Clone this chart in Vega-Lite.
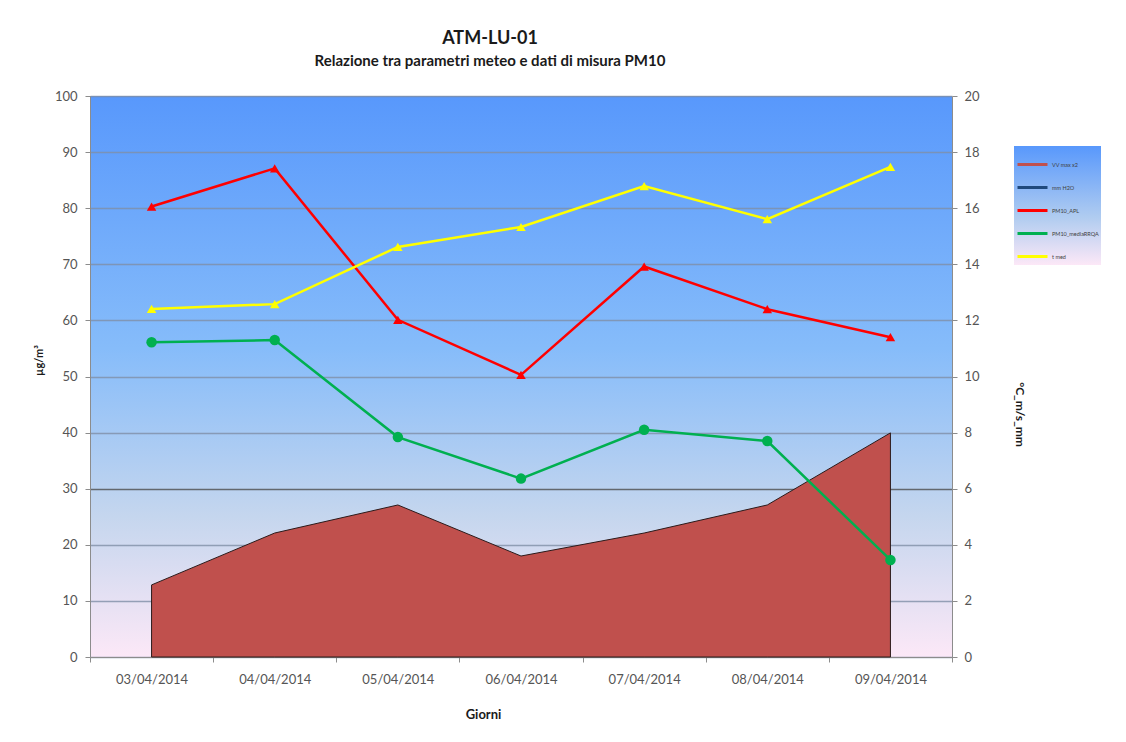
{
  "$schema": "https://vega.github.io/schema/vega-lite/v6.json",
  "width": 862,
  "height": 561,
  "autosize": "none",
  "padding": {"left": 90, "top": 96, "right": 174, "bottom": 85},
  "background": "white",
  "title": {
    "text": "ATM-LU-01",
    "subtitle": "Relazione tra parametri meteo e dati di misura PM10",
    "anchor": "middle",
    "frame": "group",
    "dx": -31,
    "offset": 21,
    "font": "Lato",
    "fontSize": 18,
    "fontWeight": "bold",
    "color": "#1a1a1a",
    "subtitleFont": "Lato",
    "subtitleFontSize": 15,
    "subtitleFontWeight": "bold",
    "subtitleColor": "#1a1a1a",
    "subtitlePadding": 6
  },
  "config": {
    "font": "Lato",
    "view": {
      "stroke": null,
      "fill": {
        "gradient": "linear",
        "x1": 0, "y1": 0, "x2": 0, "y2": 1,
        "stops": [
          {"offset": 0, "color": "#5898FC"},
          {"offset": 0.45, "color": "#86BCFA"},
          {"offset": 0.75, "color": "#C5D6EE"},
          {"offset": 1, "color": "#FCE8F7"}
        ]
      }
    },
    "axis": {
      "labelFont": "Lato",
      "labelFontSize": 13,
      "labelColor": "#555555",
      "titleFont": "Lato",
      "titleColor": "#1a1a1a",
      "domainColor": "#8c8c8c",
      "tickColor": "#8c8c8c",
      "tickSize": 5,
      "labelOverlap": false
    }
  },
  "data": {
    "values": [
      {"data": "03/04/2014", "serie": "VV max x2", "valore": 2.57},
      {"data": "04/04/2014", "serie": "VV max x2", "valore": 4.42},
      {"data": "05/04/2014", "serie": "VV max x2", "valore": 5.42},
      {"data": "06/04/2014", "serie": "VV max x2", "valore": 3.6},
      {"data": "07/04/2014", "serie": "VV max x2", "valore": 4.42},
      {"data": "08/04/2014", "serie": "VV max x2", "valore": 5.42},
      {"data": "09/04/2014", "serie": "VV max x2", "valore": 7.99},
      {"data": "03/04/2014", "serie": "PM10_APL", "valore": 80.3},
      {"data": "04/04/2014", "serie": "PM10_APL", "valore": 87.1},
      {"data": "05/04/2014", "serie": "PM10_APL", "valore": 60.1},
      {"data": "06/04/2014", "serie": "PM10_APL", "valore": 50.3},
      {"data": "07/04/2014", "serie": "PM10_APL", "valore": 69.6},
      {"data": "08/04/2014", "serie": "PM10_APL", "valore": 62.0},
      {"data": "09/04/2014", "serie": "PM10_APL", "valore": 57.0},
      {"data": "03/04/2014", "serie": "PM10_mediaRRQA", "valore": 56.1},
      {"data": "04/04/2014", "serie": "PM10_mediaRRQA", "valore": 56.5},
      {"data": "05/04/2014", "serie": "PM10_mediaRRQA", "valore": 39.2},
      {"data": "06/04/2014", "serie": "PM10_mediaRRQA", "valore": 31.8},
      {"data": "07/04/2014", "serie": "PM10_mediaRRQA", "valore": 40.5},
      {"data": "08/04/2014", "serie": "PM10_mediaRRQA", "valore": 38.5},
      {"data": "09/04/2014", "serie": "PM10_mediaRRQA", "valore": 17.3},
      {"data": "03/04/2014", "serie": "t med", "valore": 12.41},
      {"data": "04/04/2014", "serie": "t med", "valore": 12.58},
      {"data": "05/04/2014", "serie": "t med", "valore": 14.62},
      {"data": "06/04/2014", "serie": "t med", "valore": 15.33},
      {"data": "07/04/2014", "serie": "t med", "valore": 16.79},
      {"data": "08/04/2014", "serie": "t med", "valore": 15.61},
      {"data": "09/04/2014", "serie": "t med", "valore": 17.47}
    ]
  },
  "encoding": {
    "x": {
      "field": "data",
      "type": "nominal",
      "sort": null,
      "scale": {"paddingInner": 0, "paddingOuter": 0},
      "axis": {
        "title": "Giorni",
        "titleFontSize": 13,
        "titleFontWeight": "bold",
        "titlePadding": 22,
        "titleX": 393,
        "labelAngle": 0,
        "labelPadding": 11,
        "tickBand": "extent",
        "grid": false
      }
    }
  },
  "layer": [
    {
      "transform": [{"filter": "datum.serie === 'VV max x2'"}],
      "mark": {"type": "area", "color": "#C0504D", "stroke": "#2b1a1a", "strokeWidth": 1, "opacity": 1},
      "encoding": {
        "y": {
          "field": "valore",
          "type": "quantitative",
          "scale": {"domain": [0, 20], "nice": false},
          "axis": {
            "orient": "right",
            "title": "°C_m/s_mm",
            "titleFontSize": 12,
            "titleFontWeight": "bold",
            "titlePadding": 33,
            "titleY": 318,
            "values": [0, 2, 4, 6, 8, 10, 12, 14, 16, 18, 20],
            "labelOverlap": false,
            "labelPadding": 7,
            "grid": false
          }
        }
      }
    },
    {
      "transform": [{"filter": "datum.serie === 'PM10_APL' || datum.serie === 'PM10_mediaRRQA'"}],
      "mark": {"type": "line", "strokeWidth": 2.5},
      "encoding": {
        "y": {
          "field": "valore",
          "type": "quantitative",
          "scale": {"domain": [0, 100], "nice": false},
          "axis": {
            "orient": "left",
            "title": "µg/m³",
            "titleFontSize": 11,
            "titleFontWeight": "bold",
            "titlePadding": 10,
            "titleY": 264,
            "values": [0, 10, 20, 30, 40, 50, 60, 70, 80, 90, 100],
            "labelPadding": 8,
            "grid": true,
            "gridColor": {"condition": {"test": "datum.value === 30", "value": "#4d4d4d"}, "value": "#7f8ea6"},
            "gridOpacity": 0.8,
            "gridWidth": 1.5
          }
        },
        "color": {
          "field": "serie",
          "type": "nominal",
          "scale": {
            "domain": ["VV max x2", "mm H2O", "PM10_APL", "PM10_mediaRRQA", "t med"],
            "range": ["#C0504D", "#1F497D", "#FF0000", "#00B050", "#FFFF00"]
          },
          "legend": {
            "title": null,
            "orient": "none",
            "legendX": 924,
            "legendY": 50,
            "padding": 2,
            "symbolType": "stroke",
            "symbolSize": 900,
            "symbolStrokeWidth": 3,
            "rowPadding": 0,
            "labelFontSize": 5.5,
            "labelColor": "#404040",
            "labelOffset": 3,
            "encode": {
              "legend": {
                "update": {
                  "fill": {
                    "value": {
                      "gradient": "linear",
                      "x1": 0, "y1": 0, "x2": 0, "y2": 1,
                      "stops": [
                        {"offset": 0, "color": "#5898FC"},
                        {"offset": 0.6, "color": "#B0CCF0"},
                        {"offset": 1, "color": "#FCE8F7"}
                      ]
                    }
                  }
                }
              }
            }
          }
        }
      },
      "layer": [
        {"mark": {"type": "line", "strokeWidth": 2.5}},
        {
          "transform": [{"filter": "datum.serie === 'PM10_APL'"}],
          "mark": {"type": "point", "shape": "triangle-up", "filled": true, "size": 90, "opacity": 1}
        },
        {
          "transform": [{"filter": "datum.serie === 'PM10_mediaRRQA'"}],
          "mark": {"type": "point", "shape": "circle", "filled": true, "size": 110, "opacity": 1}
        }
      ]
    },
    {
      "transform": [{"filter": "datum.serie === 't med'"}],
      "encoding": {
        "y": {
          "field": "valore",
          "type": "quantitative",
          "scale": {"domain": [0, 20], "nice": false},
          "axis": null
        },
        "color": {"field": "serie", "type": "nominal"}
      },
      "layer": [
        {"mark": {"type": "line", "strokeWidth": 2.5}},
        {"mark": {"type": "point", "shape": "triangle-up", "filled": true, "size": 90, "opacity": 1}}
      ]
    }
  ],
  "resolve": {"scale": {"y": "independent"}}
}
